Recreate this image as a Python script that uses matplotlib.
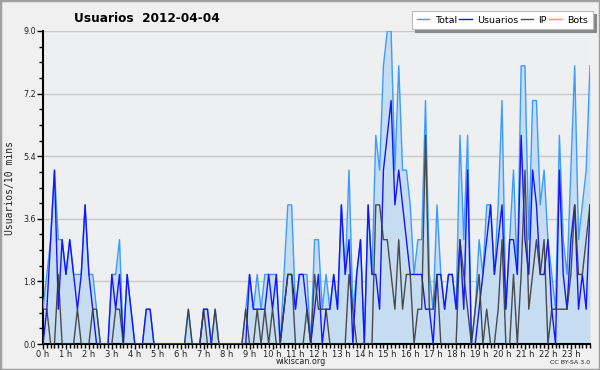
import matplotlib
matplotlib.use("Agg")
import matplotlib.pyplot as plt
from matplotlib.patches import Rectangle
from matplotlib.ticker import FixedLocator, MultipleLocator
import matplotlib.transforms as mtransforms

title = "Usuarios  2012-04-04"
ylabel = "Usuarios/10 mins"
xlabel = "wikiscan.org"
hour_labels = [f"{h} h" for h in range(24)]
yticks = [0.0, 1.8, 3.6, 5.4, 7.2, 9.0]
series_names = ["Total", "Usuarios", "IP", "Bots"]

total = [1, 2, 3, 5, 3, 3, 2, 3, 2, 2, 2, 4, 2, 2, 1, 0, 0, 0, 2, 2,
         3, 0, 2, 1, 0, 0, 0, 1, 1, 0, 0, 0, 0, 0, 0, 0, 0, 0, 1, 0,
         0, 0, 1, 1, 0, 1, 0, 0, 0, 0, 0, 0, 0, 1, 2, 1, 2, 1, 2, 2,
         2, 2, 0, 2, 4, 4, 1, 2, 2, 2, 0, 3, 3, 1, 2, 1, 2, 1, 4, 2,
         5, 1, 2, 3, 0, 4, 2, 6, 5, 8, 9, 9, 5, 8, 5, 5, 4, 2, 3, 3,
         7, 2, 1, 4, 2, 1, 2, 2, 1, 6, 3, 6, 0, 1, 3, 2, 4, 4, 2, 4,
         7, 1, 3, 5, 2, 8, 8, 3, 7, 7, 4, 5, 3, 2, 1, 6, 3, 2, 5, 8,
         3, 4, 5, 8]
usuarios = [0, 1, 3, 5, 1, 3, 2, 3, 2, 1, 2, 4, 2, 1, 0, 0, 0, 0, 2, 1,
            2, 0, 2, 1, 0, 0, 0, 1, 1, 0, 0, 0, 0, 0, 0, 0, 0, 0, 0, 0,
            0, 0, 1, 1, 0, 0, 0, 0, 0, 0, 0, 0, 0, 0, 2, 1, 1, 1, 1, 2,
            1, 2, 0, 1, 2, 2, 1, 2, 2, 1, 0, 1, 2, 0, 1, 1, 2, 1, 4, 2,
            3, 0, 2, 3, 0, 4, 2, 2, 1, 5, 6, 7, 4, 5, 4, 3, 2, 2, 2, 2,
            1, 1, 0, 2, 2, 1, 2, 2, 1, 3, 1, 5, 0, 0, 1, 2, 3, 4, 2, 3,
            4, 1, 3, 3, 2, 6, 3, 2, 5, 4, 2, 2, 3, 1, 0, 5, 2, 1, 3, 4,
            1, 2, 1, 4]
ip = [1, 1, 0, 0, 2, 0, 0, 0, 0, 1, 0, 0, 0, 1, 1, 0, 0, 0, 0, 1,
      1, 0, 0, 0, 0, 0, 0, 0, 0, 0, 0, 0, 0, 0, 0, 0, 0, 0, 1, 0,
      0, 0, 1, 0, 0, 1, 0, 0, 0, 0, 0, 0, 0, 1, 0, 0, 1, 0, 1, 0,
      1, 0, 0, 1, 2, 2, 0, 0, 0, 1, 0, 2, 1, 1, 1, 0, 0, 0, 0, 0,
      2, 1, 0, 0, 0, 0, 0, 4, 4, 3, 3, 2, 1, 3, 1, 2, 2, 0, 1, 1,
      6, 1, 1, 2, 0, 0, 0, 0, 0, 3, 2, 1, 0, 1, 2, 0, 1, 0, 0, 1,
      3, 0, 0, 2, 0, 2, 5, 1, 2, 3, 2, 3, 0, 1, 1, 1, 1, 1, 2, 4,
      2, 2, 3, 4]
bots = [0] * 144

x = list(range(len(total)))

W, H = 600, 370
fig = plt.figure(figsize=(W / 100, H / 100), dpi=100, facecolor="#f0f0f0")
ax = fig.add_axes([43 / W, 1 - 344 / H, (590 - 43) / W, (344 - 31) / H])
ax.set_facecolor("#eeeff1")

c_total = "#3b9cff"
c_fill = "#c6ddf1"
c_user = "#1414ff"
c_ip = "#3a3a3a"
c_bots = "#ffa01c"

ax.fill_between(x, total, 0, color=c_fill, zorder=1, linewidth=0)
ax.plot(x, bots, color=c_bots, lw=1.0, zorder=2)
l1, = ax.plot(x, total, color=c_total, lw=1.0, zorder=3)
l2, = ax.plot(x, usuarios, color=c_user, lw=1.0, zorder=4)
l3, = ax.plot(x, ip, color=c_ip, lw=1.0, zorder=5, alpha=0.9)
l4, = ax.plot([], [], color=c_bots, lw=1.0)

ax.set_xlim(0, len(total) - 1)
ax.set_ylim(0, 9.0)

ax.yaxis.set_major_locator(FixedLocator(yticks))
ax.yaxis.set_minor_locator(MultipleLocator(0.45))
ax.set_yticklabels([f"{v:.1f}" for v in yticks], fontsize=5.8, color="#222222")
ax.grid(axis="y", color="#c8c8c8", lw=1.0, zorder=0)
ax.set_axisbelow(True)

ax.xaxis.set_major_locator(FixedLocator([h * 6 for h in range(24)]))
ax.xaxis.set_minor_locator(MultipleLocator(1))
ax.set_xticklabels(hour_labels, fontsize=6, ha="center", color="#222222")
offset = mtransforms.ScaledTranslation(2.5 / 100, 1 / 100, fig.dpi_scale_trans)
for lab in ax.get_xticklabels():
    lab.set_transform(lab.get_transform() + offset)

ax.tick_params(axis="x", which="major", length=3.5, width=1, color="black", pad=0.8)
ax.tick_params(axis="x", which="minor", length=3, width=1, color="black")
ax.tick_params(axis="y", which="major", length=4, width=1, color="black", pad=1)
ax.tick_params(axis="y", which="minor", length=3, width=1, color="black")
for s in ["top", "right"]:
    ax.spines[s].set_visible(False)
for s in ["left", "bottom"]:
    ax.spines[s].set_linewidth(1.5)
    ax.spines[s].set_color("black")

fig.text(147 / W, 1 - 18 / H, title, ha="center", va="center", fontsize=8.7, fontweight="bold")
fig.text(10 / W, 1 - 188 / H, ylabel, rotation=90, ha="center", va="center",
         fontsize=7, family="DejaVu Sans Mono", color="#222222")
fig.text(301 / W, 1 - 362 / H, xlabel, ha="center", va="center", fontsize=5.8, color="#222222")
fig.text(590 / W, 1 - 363 / H, "CC BY-SA 3.0", ha="right", va="center", fontsize=4.5, color="#222222")

leg = fig.legend([l1, l2, l3, l4], series_names, loc="upper right",
                 bbox_to_anchor=(593 / W, 1 - 11 / H), ncol=4, fontsize=6.8,
                 frameon=True, fancybox=False, shadow={"color": "#888888", "alpha": 1.0},
                 handlelength=1.35, handletextpad=0.55, columnspacing=0.25,
                 borderpad=0.5, borderaxespad=0)
leg.get_frame().set_edgecolor("#bbbbbb")
leg.get_frame().set_linewidth(0.8)
leg.get_frame().set_facecolor("white")

fig.patches.append(Rectangle((0, 0), 1, 1, transform=fig.transFigure, fill=False,
                             edgecolor="#a0a0a0", lw=2.5))

fig.savefig("out.png", dpi=100, facecolor=fig.get_facecolor())
